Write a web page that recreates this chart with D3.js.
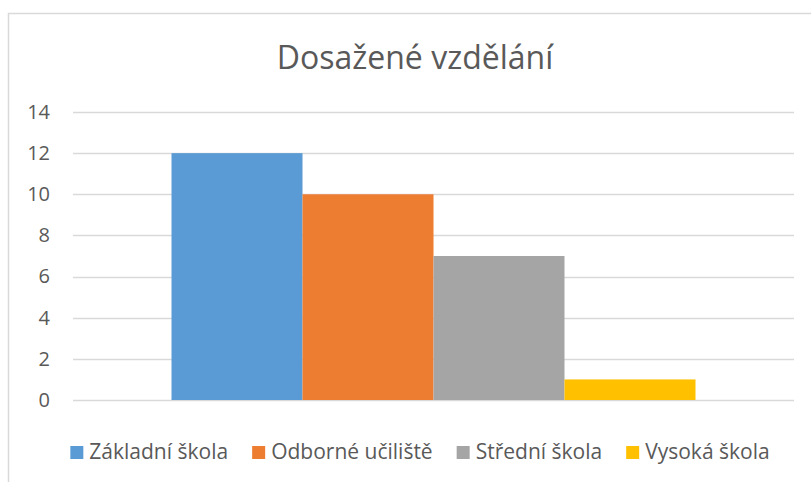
<!DOCTYPE html>
<html>
<head>
<meta charset="utf-8">
<script src="https://cdn.jsdelivr.net/npm/d3@7"></script>
<style>
  body { margin: 0; background: #fff; }
  text { font-family: "Open Sans", sans-serif; fill: #595959; }
</style>
</head>
<body>
<svg id="chart" width="811" height="482"></svg>
<script>
const TITLE = 'Dosažené vzdělání';
const categories = ['Dosažené vzdělání'];
const series = ['Základní škola', 'Odborné učiliště', 'Střední škola', 'Vysoká škola'];
const values = [12, 10, 7, 1];
const colors = ['#5B9BD5', '#ED7D31', '#A5A5A5', '#FFC000'];
const yTicks = [0, 2, 4, 6, 8, 10, 12, 14];

const WIDTH = 811;
const HEIGHT = 482;
const PLOT = {left: 73, right: 794, top: 112, bottom: 400};

const svg = d3.select('#chart');

// chart area border (runs off the right and bottom edges)
svg.append('rect')
    .attr('x', 8.5)
    .attr('y', 13.5)
    .attr('width', WIDTH + 20)
    .attr('height', HEIGHT + 20)
    .attr('fill', 'none')
    .attr('stroke', '#d9d9d9')
    .attr('stroke-width', 1.5);

// title
svg.append('text')
    .attr('x', 415)
    .attr('y', 69)
    .attr('text-anchor', 'middle')
    .style('font-size', '32px')
    .text(TITLE);

const y = d3.scaleLinear().domain([0, 14]).range([PLOT.bottom, PLOT.top]);
const x0 = d3.scaleBand()
    .domain(categories)
    .range([PLOT.left, PLOT.right])
    .paddingInner(0)
    .paddingOuter(0.188);
const x1 = d3.scaleBand()
    .domain(series)
    .range([0, x0.bandwidth()]);

// gridlines
svg.append('g')
    .selectAll('line')
    .data(yTicks)
    .join('line')
    .attr('x1', PLOT.left)
    .attr('x2', PLOT.right)
    .attr('y1', d => Math.round(y(d)) + 0.5)
    .attr('y2', d => Math.round(y(d)) + 0.5)
    .attr('stroke', '#d9d9d9')
    .attr('stroke-width', 1.5);

// y axis labels
const yAxis = svg.append('g')
    .attr('transform', 'translate(50,0)')
    .call(d3.axisLeft(y).tickValues(yTicks).tickSize(0).tickPadding(0));
yAxis.select('.domain').remove();
yAxis.selectAll('text')
    .style('font-size', '20px')
    .style('font-family', '"Open Sans", sans-serif')
    .attr('fill', '#595959');

// bars
svg.append('g')
    .selectAll('rect')
    .data(series.map((s, i) => ({name: s, value: values[i], color: colors[i]})))
    .join('rect')
    .attr('x', d => x0(categories[0]) + x1(d.name))
    .attr('y', d => y(d.value))
    .attr('width', x1.bandwidth())
    .attr('height', d => y(0) - y(d.value))
    .attr('fill', d => d.color);

// legend
const legend = svg.append('g');
const items = legend.selectAll('g')
    .data(series)
    .join('g');
items.append('rect')
    .attr('width', 13)
    .attr('height', 13)
    .attr('y', -13)
    .attr('fill', (d, i) => colors[i]);
items.append('text')
    .attr('x', 19)
    .attr('y', 0)
    .style('font-size', '21px')
    .text(d => d);

let offset = 0;
items.each(function() {
  const w = this.querySelector('text').getComputedTextLength();
  d3.select(this).attr('transform', `translate(${offset},0)`);
  offset += 19 + w + 24;
});
const legendWidth = offset - 24;
legend.attr('transform', `translate(${420 - legendWidth / 2},459)`);
</script>
</body>
</html>
